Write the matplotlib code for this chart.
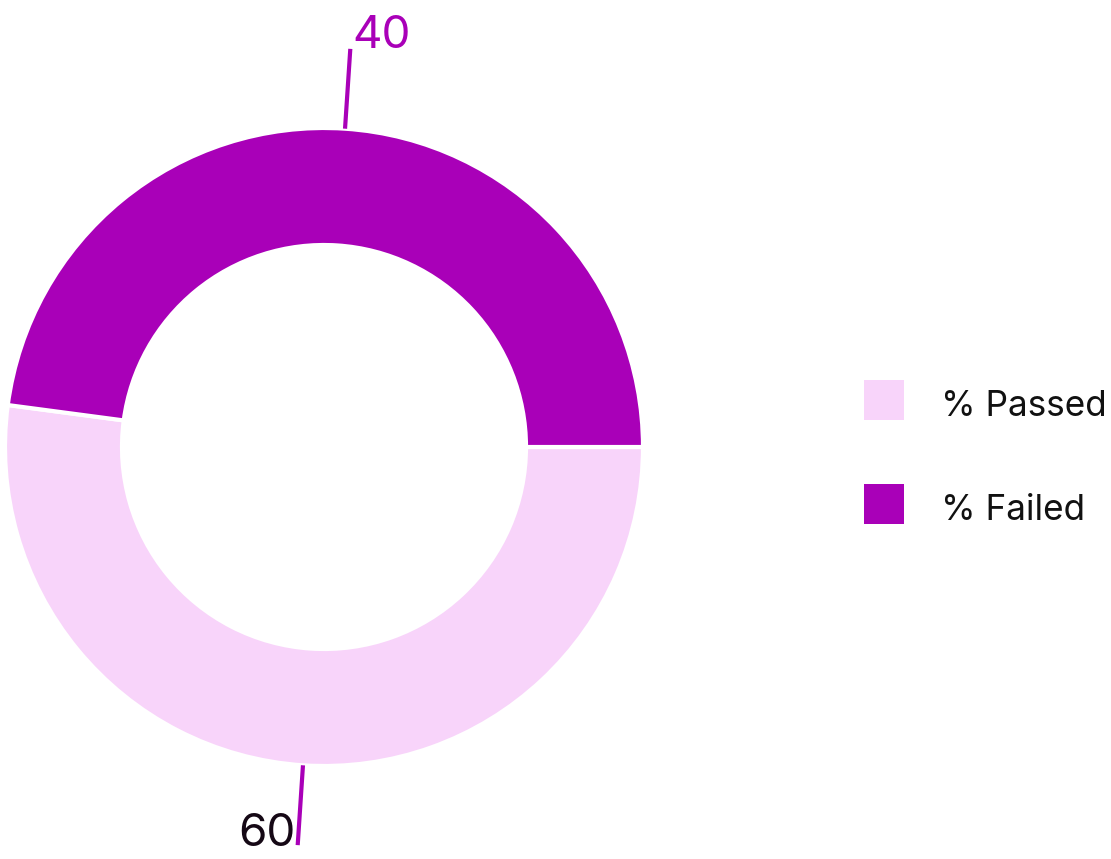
import numpy as np
import matplotlib
matplotlib.use("Agg")
import matplotlib.pyplot as plt
from matplotlib.patches import Rectangle

plt.rcParams['font.family'] = ['Inter', 'DejaVu Sans']

# data
categories = ["% Passed", "% Failed"]
slice_shares = [52.1, 47.9]       # angular share as drawn
value_labels = ["60", "40"]        # printed labels
colors = ["#F8D4FA", "#A900B8"]
label_colors = ["#150815", "#A900B8"]

W, H = 1111, 859
fig = plt.figure(figsize=(W / 100, H / 100), dpi=100)
ax = fig.add_axes([0, 0, 1, 1])
ax.set_xlim(0, W)
ax.set_ylim(0, H)
ax.set_aspect('equal')
ax.axis('off')

cx, cy = 324, H - 447
R, ring = 319, 117

wedges, _ = ax.pie(slice_shares, colors=colors, startangle=0, counterclock=False,
                   center=(cx, cy), radius=R, frame=True,
                   wedgeprops=dict(width=ring, edgecolor='white', linewidth=3))
ax.set_xlim(0, W)
ax.set_ylim(0, H)
ax.axis('off')

for w, lab, lc in zip(wedges, value_labels, label_colors):
    mid = np.deg2rad((w.theta1 + w.theta2) / 2)
    x0, y0 = cx + R * np.cos(mid), cy + R * np.sin(mid)
    x1, y1 = cx + (R + 80) * np.cos(mid), cy + (R + 80) * np.sin(mid)
    ax.plot([x0, x1], [y0, y1], color="#A900B8", lw=3, solid_capstyle='butt')
    if np.sin(mid) > 0:
        ax.text(x1 + 2, y1 + 1, lab, ha='left', va='baseline', fontsize=33, color=lc)
    else:
        ax.text(x1 - 2, y1 - 1, lab, ha='right', va='baseline', fontsize=33, color=lc)

# legend
renderer = fig.canvas.get_renderer()
for i, (cat, col) in enumerate(zip(categories, colors)):
    top = 380 + i * 104
    ax.add_patch(Rectangle((864, H - top - 40), 40, 40, color=col, lw=0))
    t = ax.text(941, H - top - 36, cat, ha='left', va='baseline', fontsize=28, color='#111111')
    if i == 0:
        wpx = t.get_window_extent(renderer).width
        fs = 28 * 166 / wpx
    t.set_fontsize(fs)

fig.savefig("out.png", dpi=100)
